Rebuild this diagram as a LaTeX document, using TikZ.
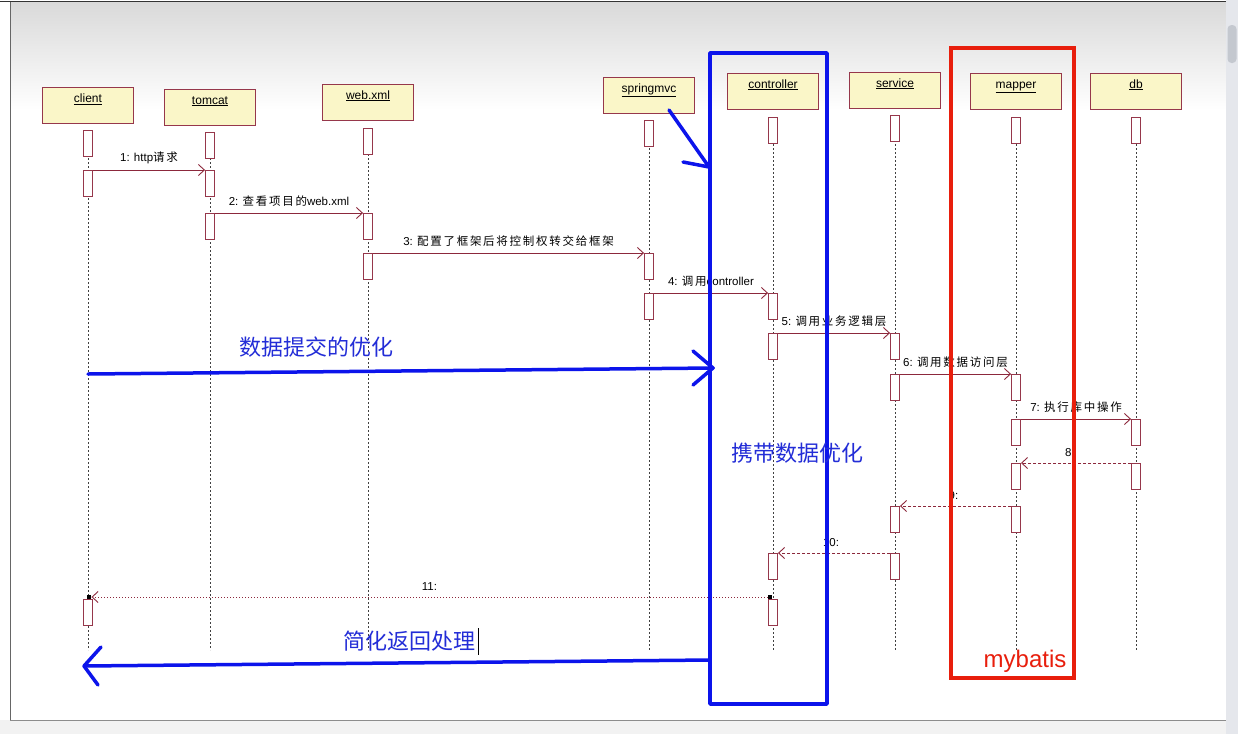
\documentclass[tikz,border=0pt]{standalone}
\usepackage{fontspec}
\setmainfont{Liberation Sans}
\newfontfamily\cjk[LetterSpace=15]{Noto Sans CJK SC}
\newfontfamily\cjkb{Noto Sans CJK SC}
\newcommand\zh[1]{{\cjk #1}}
\usetikzlibrary{arrows.meta}
\definecolor{dred}{RGB}{140,40,60}
\definecolor{hfill}{RGB}{250,246,200}
\definecolor{hbord}{RGB}{150,55,75}
\definecolor{annblue}{RGB}{12,20,235}
\definecolor{annred}{RGB}{232,30,12}
\definecolor{txtblue}{RGB}{35,45,215}
\definecolor{sbgray}{RGB}{229,231,236}
\definecolor{thumbgray}{RGB}{196,200,207}
\tikzset{
 hdr/.style={draw=hbord, fill=hfill, line width=0.9pt, minimum width=91pt, minimum height=36pt, inner ysep=3pt, text height=12pt, text depth=18pt, font=\fontsize{12}{13}\selectfont},
 act/.style={draw=hbord, fill=white, line width=0.9pt, minimum width=9pt, minimum height=26pt, inner sep=0pt, anchor=north},
 life/.style={draw=black!75, line width=0.7pt, dash pattern=on 2pt off 2pt},
 msg/.style={draw=dred, line width=0.9pt, -{Straight Barb[length=6pt,width=11pt]}},
 ret/.style={msg, dash pattern=on 3pt off 2pt},
 lab/.style={font=\fontsize{11.5}{12}\selectfont, above=5pt, inner sep=1pt, midway, text=black},
 ann/.style={draw=annblue, line width=3.5pt, line cap=round, line join=round},
 big/.style={font=\cjkb\fontsize{22}{24}\selectfont, text=txtblue, inner sep=0pt},
 sq/.style={fill=black, minimum size=4.5pt, inner sep=0pt}
}
\begin{document}
\begin{tikzpicture}[x=1pt,y=-1pt]
\useasboundingbox (0,0) rectangle (1238,734);
% window background
\fill[white] (0,0) rectangle (1238,734);
\shade[top color=black!15, bottom color=white] (10,1) rectangle (1226,110);
\fill[black!5] (0,720) rectangle (1226,734);
\draw[black!45, line width=0.8pt] (10,720) -- (1226,720);
\draw[black!60, line width=0.8pt] (10,1) -- (10,720);
\draw[black!80, line width=1pt] (0,1) -- (1226,1);
\fill[sbgray] (1226,0) rectangle (1238,734);
\fill[thumbgray, rounded corners=4pt] (1227.5,25) rectangle (1236.5,63);

% heads
\node[hdr] (h1) at (88,105.5) {\underline{client}};
\node[hdr] (h2) at (210,107) {\underline{tomcat}};
\node[hdr] (h3) at (368,102) {\underline{web.xml}};
\node[hdr] (h4) at (649,95) {\underline{springmvc}};
\node[hdr] (h5) at (773,91) {\underline{controller}};
\node[hdr] (h6) at (895,90) {\underline{service}};
\node[hdr] (h7) at (1016,91) {\underline{mapper}};
\node[hdr] (h8) at (1136,91) {\underline{db}};

% lifeline ends
\coordinate (e1) at (88,650);
\coordinate (e2) at (210,650);
\coordinate (e3) at (368,650);
\coordinate (e4) at (649,650);
\coordinate (e5) at (773,650);
\coordinate (e6) at (895,650);
\coordinate (e7) at (1016,650);
\coordinate (e8) at (1136,650);

% lifelines
\draw[life] (88,150) -- (e1);
\draw[life] (210,150) -- (e2);
\draw[life] (368,150) -- (e3);
\draw[life] (649,140) -- (e4);
\draw[life] (773,140) -- (e5);
\draw[life] (895,140) -- (e6);
\draw[life] (1016,140) -- (e7);
\draw[life] (1136,140) -- (e8);

% head activation stubs
\node[act] (s1) at (88,130) {};
\node[act] (s2) at (210,132) {};
\node[act] (s3) at (368,128) {};
\node[act] (s4) at (649,120) {};
\node[act] (s5) at (773,117) {};
\node[act] (s6) at (895,115) {};
\node[act] (s7) at (1016,117) {};
\node[act] (s8) at (1136,117) {};

% activations
\node[act] (c1) at (88,170) {};
\node[act] (c2) at (88,599) {};
\node[act] (t1a) at (210,170) {};
\node[act] (t2a) at (210,213) {};
\node[act] (w1) at (368,213) {};
\node[act] (w2) at (368,253) {};
\node[act] (p1) at (649,253) {};
\node[act] (p2) at (649,293) {};
\node[act] (k1) at (773,293) {};
\node[act] (k2) at (773,333) {};
\node[act] (k3) at (773,553) {};
\node[act] (k4) at (773,599) {};
\node[act] (v1) at (895,333) {};
\node[act] (v2) at (895,374) {};
\node[act] (v3) at (895,506) {};
\node[act] (v4) at (895,553) {};
\node[act] (m1) at (1016,374) {};
\node[act] (m2) at (1016,419) {};
\node[act] (m3) at (1016,463) {};
\node[act] (m4) at (1016,506) {};
\node[act] (d1) at (1136,419) {};
\node[act] (d2) at (1136,463) {};
\node[sq] (q1) at (89,597) {};
\node[sq] (q2) at (770,597) {};

% messages
\draw[msg] (c1.north east) -- (t1a.north west) node[lab] (l1) {1: http\zh{请求}};
\draw[msg] (t2a.north east) -- (w1.north west) node[lab] (l2) {2: \zh{查看项目的}web.xml};
\draw[msg] (w2.north east) -- (p1.north west) node[lab] (l3) {3: \zh{配置了框架后将控制权转交给框架}};
\draw[msg] (p2.north east) -- (k1.north west) node[lab] (l4) {4: \zh{调用}controller};
\draw[msg] (k2.north east) -- (v1.north west) node[lab] (l5) {5: \zh{调用业务逻辑层}};
\draw[msg] (v2.north east) -- (m1.north west) node[lab] (l6) {6: \zh{调用数据访问层}};
\draw[msg] (m2.north east) -- (d1.north west) node[lab] (l7) {7: \zh{执行库中操作}};
\draw[ret] (d2.north west) -- (m3.north east) node[lab, xshift=-6pt] (l8) {8:};
\draw[ret] (m4.north west) -- (v3.north east) node[lab, xshift=-2pt] (l9) {9:};
\draw[ret] (v4.north west) -- (k3.north east) node[lab, xshift=-3pt] (l10) {10:};
\draw[ret, dash pattern=on 1pt off 2pt] (q2.west) -- (q1.east) node[lab] (l11) {11:};

% annotations
\draw[ann] (710,53) rectangle (827,704);
\draw[draw=annred, line width=3.5pt] (951,48) rectangle (1074,678);

\coordinate (b1s) at (669,110);
\coordinate (b1e) at (709,167);
\coordinate (b1h) at (683,162);
\draw[ann] (b1s) -- (b1e) -- (b1h);

\coordinate (b2s) at (88,374);
\coordinate (b2e) at (713,368);
\coordinate (b2u) at (693,351);
\coordinate (b2d) at (693,385);
\draw[ann] (b2s) -- (b2e);
\draw[ann] (b2u) -- (b2e) -- (b2d);

\coordinate (b3s) at (710,660);
\coordinate (b3e) at (84,666);
\coordinate (b3u) at (101,647);
\coordinate (b3d) at (98,685);
\draw[ann] (b3s) -- (b3e);
\draw[ann] (b3u) -- (b3e) -- (b3d);

\node[big] (tx1) at (316,347) {数据提交的优化};
\node[big] (tx2) at (797,453) {携带数据优化};
\node[big] (tx3) at (409,641) {简化返回处理};
\coordinate (cur1) at (478,628);
\coordinate (cur2) at (478,655);
\draw[black, line width=1pt] (cur1) -- (cur2);
\node[font=\fontsize{24}{26}\selectfont, text=annred, inner sep=0pt] (tx4) at (1025,661) {mybatis};
\end{tikzpicture}
\end{document}
